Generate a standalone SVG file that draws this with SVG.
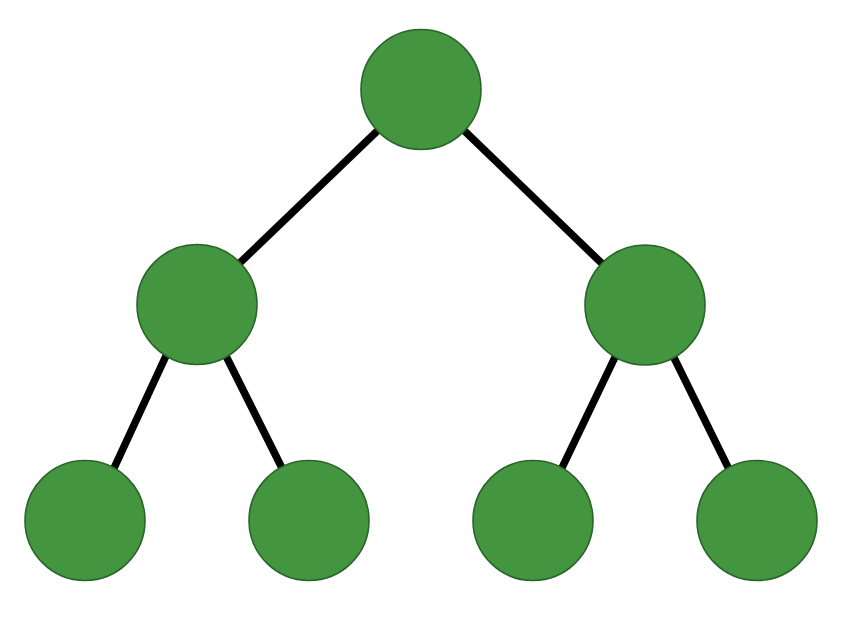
<svg xmlns="http://www.w3.org/2000/svg" width="857" height="624" viewBox="0 0 857 624">
  <style>
    .edge { stroke: #000000; stroke-width: 7.5; fill: none; }
    .node { fill: #43963f; stroke: #2a6428; stroke-width: 1.6; }
  </style>
  <rect width="857" height="624" fill="#ffffff"/>
  <g id="connectors">
    <line class="edge" x1="421" y1="89" x2="197" y2="304"/>
    <line class="edge" x1="421" y1="89" x2="645" y2="305"/>
    <line class="edge" x1="190" y1="304" x2="90" y2="520"/>
    <line class="edge" x1="200" y1="304" x2="308" y2="520"/>
    <line class="edge" x1="640" y1="305" x2="537" y2="520"/>
    <line class="edge" x1="648" y1="305" x2="754" y2="520"/>
  </g>
  <g id="node-root"><circle class="node" cx="421" cy="89.5" r="60"/></g>
  <g id="node-left"><circle class="node" cx="197" cy="304.5" r="60"/></g>
  <g id="node-right"><circle class="node" cx="645" cy="305" r="60"/></g>
  <g id="node-ll"><circle class="node" cx="85" cy="520.5" r="60"/></g>
  <g id="node-lr"><circle class="node" cx="309" cy="520.5" r="60"/></g>
  <g id="node-rl"><circle class="node" cx="533" cy="520.5" r="60"/></g>
  <g id="node-rr"><circle class="node" cx="757" cy="520.5" r="60"/></g>
</svg>
